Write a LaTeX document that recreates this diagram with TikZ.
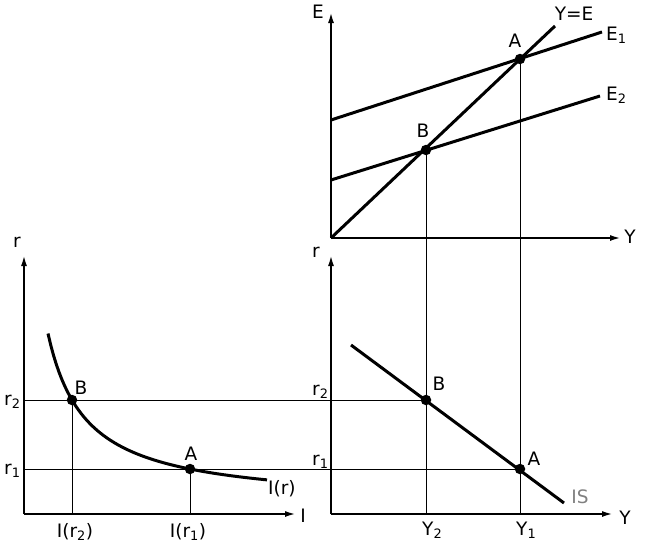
\documentclass[tikz,border=0pt]{standalone}
\usepackage{fontspec}
\setmainfont{DejaVu Sans}
\usetikzlibrary{arrows.meta,positioning,calc}
\tikzstyle{every node}=[font=\fontsize{18.5}{20}\selectfont, inner sep=0pt, anchor=base]
\tikzstyle{axis} = [draw, line width=2pt, -{Latex[length=11pt,width=6pt]}]
\tikzstyle{curve} = [draw, line width=3pt]
\tikzstyle{guide} = [draw, line width=1pt]
\tikzstyle{dot} = [fill, circle, inner sep=0pt, minimum size=10.5pt, anchor=center]

\begin{document}
\begin{tikzpicture}[x=1pt,y=-1pt,line cap=butt]
    \useasboundingbox (0,0) rectangle (657,546);

    % axes of the three panels
    \coordinate (originE) at (331,238);
    \coordinate (originR) at (331,514);
    \coordinate (originI) at (24,514);
    \coordinate (tipE) at (331,12);
    \coordinate (tipYtop) at (621,238);
    \coordinate (tipRright) at (331,255);
    \coordinate (tipYbot) at (613,514);
    \coordinate (tipRleft) at (24,255);
    \coordinate (tipI) at (296,514);

    % equilibrium points
    \coordinate (ptAtop) at (520,59);
    \coordinate (ptBtop) at (426,150);
    \coordinate (ptAright) at (520,469);
    \coordinate (ptBright) at (426,400);
    \coordinate (ptAleft) at (190,469);
    \coordinate (ptBleft) at (72,400);

    % feet of the guide lines
    \coordinate (Yone) at (520,514);
    \coordinate (Ytwo) at (426,514);
    \coordinate (Ione) at (190,514);
    \coordinate (Itwo) at (72,514);
    \coordinate (rtwoL) at (24,400);
    \coordinate (roneL) at (24,469);

    \draw[guide] (ptAtop) -- (Yone);
    \draw[guide] (ptBtop) -- (Ytwo);
    \draw[guide] (rtwoL) -- (ptBright);
    \draw[guide] (roneL) -- (ptAright);
    \draw[guide] (ptBleft) -- (Itwo);
    \draw[guide] (ptAleft) -- (Ione);

    \draw[axis] (originE) -- (tipE);
    \draw[axis] (originE) -- (tipYtop);
    \draw[axis] (originR) -- (tipRright);
    \draw[axis] (originR) -- (tipYbot);
    \draw[axis] (originI) -- (tipRleft);
    \draw[axis] (originI) -- (tipI);

    % expenditure lines
    \coordinate (eOneStart) at (331,120);
    \coordinate (eOneEnd) at (602,32);
    \coordinate (eTwoStart) at (331,180);
    \coordinate (eTwoEnd) at (600,96);
    \coordinate (yeEnd) at (555,26);
    \draw[curve] (originE) -- (yeEnd);
    \draw[curve] (eOneStart) -- (eOneEnd);
    \draw[curve] (eTwoStart) -- (eTwoEnd);

    % IS line and investment curve
    \coordinate (isStart) at (351,345);
    \coordinate (isEnd) at (564,503);
    \draw[curve] (isStart) -- (isEnd);
    \draw[curve] plot[domain=48:267,samples=80] (\x,{505.26-6526/(\x-10)});

    \node[dot] (Atop) at (ptAtop) {};
    \node[dot] (Btop) at (ptBtop) {};
    \node[dot] (Aright) at (ptAright) {};
    \node[dot] (Bright) at (ptBright) {};
    \node[dot] (Aleft) at (ptAleft) {};
    \node[dot] (Bleft) at (ptBleft) {};

    % labels
    \node (labE) at (318,18) {E};
    \node (labYtop) at (630,243) {Y};
    \node (labYE) at (574,20) {Y=E};
    \node[anchor=base west] (labEone) at (606,40) {E\textsubscript{1}};
    \node[anchor=base west] (labEtwo) at (606,100) {E\textsubscript{2}};
    \node (labAtop) at (515,48) {A};
    \node (labBtop) at (423,137) {B};

    \node (labRright) at (316,257) {r};
    \node[anchor=base west] (labRtwoR) at (312,395) {r\textsubscript{2}};
    \node[anchor=base west] (labRoneR) at (312,465) {r\textsubscript{1}};
    \node (labBright) at (439,390) {B};
    \node (labAright) at (534,465) {A};
    \node[text=black!50] (labIS) at (580,503) {IS};
    \node (labYbot) at (625,524) {Y};
    \node[anchor=base west] (labYtwo) at (422,535) {Y\textsubscript{2}};
    \node[anchor=base west] (labYone) at (516,535) {Y\textsubscript{1}};

    \node (labRleft) at (17,247) {r};
    \node[anchor=base west] (labRtwoL) at (4,405) {r\textsubscript{2}};
    \node[anchor=base west] (labRoneL) at (4,474) {r\textsubscript{1}};
    \node (labBleft) at (81,394) {B};
    \node (labAleft) at (191,460) {A};
    \node[anchor=base west] (labIr) at (268,494) {I(r)};
    \node (labI) at (303,522) {I};
    \node (labItwo) at (75,537) {I(r\textsubscript{2})};
    \node (labIone) at (188,537) {I(r\textsubscript{1})};
\end{tikzpicture}
\end{document}
